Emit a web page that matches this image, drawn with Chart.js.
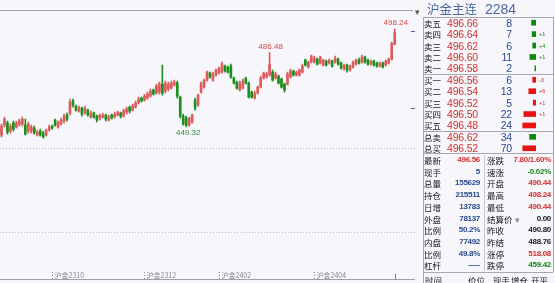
<!DOCTYPE html>
<html>
<head>
<meta charset="utf-8">
<script src="https://cdn.jsdelivr.net/npm/chart.js@4.4.1/dist/chart.umd.min.js"></script>
<style>
  html, body { margin: 0; padding: 0; background: #f6f6fb; }
  body { width: 555px; height: 283px; position: relative; overflow: hidden; font-family: "Liberation Sans", Arial, sans-serif; }
  #kline { position: absolute; left: 0; top: 0; }
  #panel { position: absolute; left: 0; top: 0; width: 555px; height: 283px; }
  #book { position: absolute; left: 500px; top: 17px; }
  .t { position: absolute; height: 12px; line-height: 12px; white-space: nowrap; }
  .cn { font-family: "Noto Sans CJK SC", sans-serif; font-size: 8.5px; color: #1a1a1a; }
  .px { font-size: 10.5px; letter-spacing: -0.2px; }
  .sv { font-size: 8px; font-weight: bold; letter-spacing: -0.3px; }
  .chg { font-size: 5.5px; }
  .red { color: #d03232; }
  .blue { color: #2a4a8e; }
  .green { color: #128a12; }
  .black { color: #222; }
  .title { font-family: "Noto Sans CJK SC", sans-serif; font-size: 12.5px; color: #4a6a9f; height: 16px; line-height: 16px; }
  .title2 { font-size: 14px; color: #4a6a9f; height: 16px; line-height: 16px; }
  .hl { position: absolute; height: 1px; background: #a8a8b2; }
  .vl { position: absolute; width: 1px; background: #a8a8b2; }
</style>
</head>
<body>
<canvas id="kline" width="415" height="283"></canvas>
<div id="panel"></div>
<canvas id="book" width="36" height="137"></canvas>
<script>
// K-line data (daily, oldest first)
const opens = [
  445.2, 450.2, 451.2, 447.2, 451.2, 449.2, 450.7, 450.7, 450.2, 447.2,
  447.2, 448.7, 445.2, 447.2, 446.2, 445.2, 447.7, 449.7, 452.7, 449.2,
  450.7, 452.2, 455.2, 456.2, 462.2, 459.7, 457.2, 458.7, 456.2, 457.7,
  454.2, 456.2, 454.7, 453.7, 454.2, 455.2, 452.7, 455.2, 454.2, 455.2,
  456.2, 454.7, 456.7, 459.2, 457.7, 459.2, 461.2, 463.7, 462.7, 463.7,
  464.7, 467.7, 466.2, 466.7, 470.7, 467.2, 468.2, 468.7, 470.2, 471.2,
  464.2, 454.7, 453.7, 450.2, 451.7, 462.7, 460.2, 466.7, 469.2, 472.7,
  476.2, 472.7, 475.2, 476.2, 476.7, 479.7, 479.2, 479.7, 473.7, 471.7,
  467.7, 468.7, 473.7, 471.2, 466.7, 463.7, 466.2, 469.2, 473.7, 474.2,
  475.2, 476.7, 473.7, 474.7, 473.2, 470.7, 470.7, 474.2, 477.2, 475.2,
  475.2, 476.7, 482.7, 479.2, 481.7, 481.7, 483.2, 481.2, 480.2, 482.2,
  481.2, 482.2, 481.7, 483.2, 481.2, 478.2, 480.2, 477.7, 479.2, 480.7,
  482.7, 481.7, 484.2, 482.7, 480.7, 482.2, 481.2, 479.7, 481.2, 480.2,
  481.2, 483.2, 490.44
];
const highs = [
  450.7, 454.2, 452.2, 450.7, 452.2, 452.2, 453.2, 454.2, 453.2, 451.7,
  450.2, 449.7, 447.7, 448.2, 447.2, 448.2, 450.2, 450.2, 453.2, 452.2,
  453.7, 455.7, 456.2, 463.2, 463.2, 460.2, 459.7, 459.2, 459.7, 458.2,
  457.2, 456.7, 455.2, 455.7, 456.2, 455.7, 455.2, 455.7, 456.7, 457.2,
  456.7, 458.2, 459.2, 459.7, 460.7, 462.2, 464.2, 464.2, 465.7, 466.7,
  468.2, 468.2, 470.7, 471.7, 480.2, 472.2, 471.7, 472.2, 472.7, 472.2,
  464.7, 455.7, 454.7, 454.2, 455.7, 463.7, 465.7, 471.7, 473.2, 477.2,
  476.7, 476.7, 478.2, 479.2, 481.7, 480.2, 479.7, 480.7, 474.2, 472.2,
  472.2, 473.2, 474.2, 471.7, 467.2, 467.2, 469.7, 474.7, 476.7, 476.7,
  486.48, 477.7, 476.7, 475.2, 473.7, 471.2, 476.7, 478.2, 477.7, 477.2,
  478.2, 480.7, 483.2, 482.2, 485.2, 484.7, 483.7, 484.7, 483.2, 482.7,
  483.2, 482.7, 484.7, 483.7, 481.7, 480.7, 480.7, 480.2, 482.2, 483.2,
  483.7, 485.2, 484.7, 483.2, 482.7, 482.7, 481.7, 481.7, 481.7, 482.7,
  483.7, 491.7, 498.24
];
const lows = [
  444.2, 449.2, 445.7, 446.2, 447.2, 448.7, 449.7, 449.7, 445.2, 446.2,
  446.2, 445.7, 444.7, 444.7, 443.7, 444.7, 447.2, 448.2, 449.7, 448.7,
  450.2, 451.2, 452.2, 455.2, 459.2, 457.2, 456.7, 454.7, 455.7, 454.7,
  453.7, 453.7, 451.7, 452.7, 453.7, 452.2, 452.2, 453.2, 453.7, 454.7,
  453.7, 454.2, 455.7, 456.2, 457.2, 458.7, 460.7, 461.7, 462.2, 463.2,
  464.2, 465.2, 465.7, 465.7, 465.2, 466.2, 467.2, 468.2, 469.7, 463.7,
  453.7, 450.2, 449.32, 449.7, 451.2, 457.7, 459.7, 466.2, 468.7, 472.2,
  473.7, 472.2, 474.7, 475.7, 476.2, 476.7, 476.2, 473.7, 470.7, 468.2,
  467.2, 468.2, 470.7, 463.7, 463.7, 463.2, 465.7, 468.7, 473.2, 473.7,
  474.7, 472.2, 473.2, 470.7, 468.7, 466.7, 470.2, 473.7, 474.7, 474.7,
  474.7, 476.2, 479.7, 478.7, 481.2, 481.2, 480.2, 480.7, 479.7, 479.7,
  480.7, 479.2, 481.2, 480.2, 478.2, 477.7, 476.7, 477.2, 478.7, 480.2,
  480.7, 481.2, 481.2, 480.2, 480.2, 479.7, 479.2, 479.2, 478.7, 479.7,
  480.7, 482.7, 490.44
];
const closes = [
  449.7, 453.2, 446.7, 449.7, 448.2, 451.2, 452.2, 453.2, 445.7, 450.7,
  449.2, 446.2, 446.7, 445.2, 444.2, 447.7, 449.2, 448.7, 450.2, 451.7,
  452.7, 454.7, 453.2, 461.7, 460.2, 457.7, 458.7, 455.7, 458.7, 455.2,
  456.2, 454.2, 452.7, 455.2, 455.2, 453.2, 454.2, 453.7, 455.7, 456.7,
  454.7, 457.2, 458.2, 457.2, 459.7, 461.2, 463.2, 462.2, 464.7, 465.7,
  467.2, 465.7, 469.7, 470.7, 466.2, 471.2, 470.7, 471.2, 471.7, 464.7,
  454.7, 450.7, 450.2, 453.7, 455.2, 458.7, 465.2, 471.2, 472.7, 476.7,
  474.2, 475.7, 477.7, 478.7, 480.7, 477.2, 476.7, 474.2, 471.2, 468.7,
  471.2, 472.2, 471.2, 464.2, 464.2, 466.2, 469.2, 473.7, 476.2, 475.7,
  480.7, 472.7, 475.7, 471.2, 469.2, 467.7, 475.7, 477.2, 475.2, 476.7,
  477.7, 479.7, 480.2, 481.7, 484.7, 483.7, 480.7, 484.2, 482.7, 480.2,
  482.7, 479.7, 483.7, 480.7, 478.7, 480.2, 477.7, 479.7, 481.7, 482.7,
  481.2, 484.2, 481.7, 480.7, 482.2, 480.2, 479.7, 481.2, 479.2, 482.2,
  483.2, 490.8, 496.56
];

// contract roll labels on the time axis (index of the bar where they start)
const tickIdx = [17, 48, 73, 105];
const tickText = ["沪金2310", "沪金2312", "沪金2402", "沪金2404"];
const gridPrices = [438.74, 396.74];
const sideMarks = [497.24, 458.74];
const markHigh = [132, 90];
const markLow = [62];

// order book
const askLabels = ["卖五", "卖四", "卖三", "卖二", "卖一"];
const askPrices = [496.66, 496.64, 496.62, 496.6, 496.58];
const askVols = [8, 7, 6, 11, 2];
const askChg = ["", "+1", "+4", "+1", ""];
const bidLabels = ["买一", "买二", "买三", "买四", "买五"];
const bidPrices = [496.56, 496.54, 496.52, 496.5, 496.48];
const bidVols = [6, 13, 5, 22, 24];
const bidChg = ["-3", "+6", "+1", "+1", ""];
const totLabels = ["总卖", "总买"];
const totPrices = [496.62, 496.52];
const totVols = [34, 70];

// quote stats: [label, value, color] left and right
const statLeft = [
  ["最新", "496.56", "red"], ["现手", "5", "blue"], ["总量", "155629", "blue"],
  ["持仓", "215511", "blue"], ["日增", "13783", "blue"], ["外盘", "78137", "blue"],
  ["比例", "50.2%", "blue"], ["内盘", "77492", "blue"], ["比例", "49.8%", "blue"],
  ["杠杆", "-----", "blue"]
];
const statRight = [
  ["涨跌", "7.80/1.60%", "red"], ["速涨", "-0.02%", "green"], ["开盘", "490.44", "red"],
  ["最高", "498.24", "red"], ["最低", "490.44", "red"], ["结算价", "0.00", "black"],
  ["昨收", "490.80", "black"], ["昨结", "488.76", "black"], ["涨停", "518.08", "red"],
  ["跌停", "459.42", "green"]
];
const tradeHeader = ["时间", "价位", "现手", "增仓", "开平"];

const UP = "#dc5c5c";
const DOWN = "#1d8f1d";

const candleColors = closes.map((c, i) => (c >= opens[i] ? UP : DOWN));

const overlay = {
  id: "overlay",
  afterDraw(chart) {
    const { ctx, chartArea, scales } = chart;
    const x = scales.x, y = scales.y;
    ctx.save();
    // top frame line
    ctx.strokeStyle = "#9ea3b4";
    ctx.lineWidth = 1;
    ctx.beginPath();
    ctx.moveTo(0, chartArea.top + 0.5);
    ctx.lineTo(413, chartArea.top + 0.5);
    ctx.stroke();
    // dotted price grid
    ctx.strokeStyle = "#bcbcc8";
    ctx.setLineDash([1, 2]);
    gridPrices.forEach((p) => {
      const py = Math.round(y.getPixelForValue(p)) + 0.5;
      ctx.beginPath();
      ctx.moveTo(0, py);
      ctx.lineTo(415, py);
      ctx.stroke();
    });
    // contract labels
    ctx.font = "7px 'Noto Sans CJK SC'";
    ctx.fillStyle = "#8a8a8a";
    ctx.textBaseline = "alphabetic";
    ctx.textAlign = "left";
    tickIdx.forEach((idx, k) => {
      const px = Math.round(x.getPixelForValue(idx)) + 0.5;
      ctx.strokeStyle = "#8a8a8a";
      ctx.beginPath();
      ctx.moveTo(px, 272);
      ctx.lineTo(px, 279);
      ctx.stroke();
      ctx.fillText(tickText[k], px + 2, 278);
    });
    ctx.setLineDash([]);
    // bottom axis line
    ctx.strokeStyle = "#a0a0aa";
    ctx.beginPath();
    ctx.moveTo(0, chartArea.bottom + 0.5);
    ctx.lineTo(415, chartArea.bottom + 0.5);
    ctx.stroke();
    // current bar marker
    const lx = Math.round(x.getPixelForValue(closes.length - 1)) + 0.5;
    ctx.strokeStyle = "#777";
    ctx.beginPath();
    ctx.moveTo(lx, 274);
    ctx.lineTo(lx, 279);
    ctx.stroke();
    // right edge marks
    ctx.strokeStyle = "#5a6690";
    sideMarks.forEach((p) => {
      const py = Math.round(y.getPixelForValue(p)) + 0.5;
      ctx.beginPath();
      ctx.moveTo(411, py);
      ctx.lineTo(415, py);
      ctx.stroke();
    });
    // high / low annotations
    ctx.font = "8px 'Liberation Sans'";
    ctx.textAlign = "center";
    ctx.fillStyle = "#d24a4a";
    ctx.textBaseline = "bottom";
    markHigh.forEach((i) => {
      ctx.fillText(highs[i].toFixed(2), x.getPixelForValue(i) + 1, y.getPixelForValue(highs[i]) - 2);
    });
    ctx.fillStyle = "#2a8a3a";
    ctx.textBaseline = "top";
    markLow.forEach((i) => {
      ctx.fillText(lows[i].toFixed(2), x.getPixelForValue(i) + 2, y.getPixelForValue(lows[i]) + 2);
    });
    ctx.restore();
  },
};

new Chart(document.getElementById("kline"), {
  type: "bar",
  data: {
    datasets: [
      {
        data: lows.map((l, i) => ({ x: i, y: [l, highs[i]] })),
        backgroundColor: candleColors,
        barThickness: 1,
        grouped: false,
        borderWidth: 0,
      },
      {
        data: opens.map((o, i) => ({ x: i, y: [o, closes[i]] })),
        backgroundColor: candleColors,
        barThickness: 2,
        grouped: false,
        borderWidth: 0,
        minBarLength: 1,
      },
    ],
  },
  options: {
    responsive: false,
    animation: false,
    devicePixelRatio: 1,
    events: [],
    layout: { padding: { top: 10, bottom: 4, left: 0, right: 3 } },
    plugins: { legend: { display: false }, tooltip: { enabled: false } },
    scales: {
      x: { type: "linear", display: false, offset: false, min: -0.5, max: 137.8 },
      y: { display: false, min: 373.24, max: 507.74 },
    },
  },
  plugins: [overlay],
});

/// Side panel ///
const panel = document.getElementById("panel");
function put(text, x, y, cls, right) {
  const d = document.createElement("div");
  d.className = "t " + cls;
  d.textContent = text;
  d.style.top = y - 6 + "px";
  if (right) d.style.right = 555 - x + "px";
  else d.style.left = x + "px";
  panel.appendChild(d);
  return d;
}
function hline(x1, x2, y) {
  const d = document.createElement("div");
  d.className = "hl";
  d.style.left = x1 + "px";
  d.style.width = x2 - x1 + "px";
  d.style.top = y + "px";
  panel.appendChild(d);
}
function vline(x, y1, y2, color) {
  const d = document.createElement("div");
  d.className = "vl";
  d.style.left = x + "px";
  d.style.top = y1 + "px";
  d.style.height = y2 - y1 + "px";
  if (color) d.style.background = color;
  panel.appendChild(d);
}

const t1 = put("沪金主连", 427, 9, "title");
t1.style.top = "1px";
const t2 = put("2284", 485, 9, "title2");
t2.style.top = "1px";
const tri = put("▾", 415, 12, "black");
tri.style.fontSize = "9px";
tri.style.color = "#555";

const rowY = (k) => 22.7 + 11.42 * k;
askLabels.forEach((lab, k) => {
  const y = rowY(k);
  put(lab, 424, y, "cn");
  put(askPrices[k].toFixed(2), 447, y, "px red");
  put(String(askVols[k]), 512, y, "px blue", true);
  if (askChg[k]) put(askChg[k], 539, y, "chg green");
});
bidLabels.forEach((lab, k) => {
  const y = rowY(k + 5);
  put(lab, 424, y, "cn");
  put(bidPrices[k].toFixed(2), 447, y, "px red");
  put(String(bidVols[k]), 512, y, "px blue", true);
  if (bidChg[k]) put(bidChg[k], 539, y, "chg red");
});
totLabels.forEach((lab, k) => {
  const y = rowY(k + 10);
  put(lab, 424, y, "cn");
  put(totPrices[k].toFixed(2), 447, y, "px red");
  put(String(totVols[k]), 512, y, "px blue", true);
});

const statY = (k) => 160 + 11.7 * k;
statLeft.forEach((row, k) => {
  const y = statY(k);
  put(row[0], 424, y, "cn");
  put(row[1], 480, y, "sv " + row[2], true);
  const r = statRight[k];
  put(r[0], 487, y, "cn");
  if (r[0] === "结算价") {
    const a = put("▾", 515, y, "cn");
    a.style.color = "#888";
  }
  put(r[1], 551, y, "sv " + r[2], true);
});
[425, 468, 493, 511, 531].forEach((x, k) => put(tradeHeader[k], x, 279.5, "cn"));

hline(423, 553, 17);
hline(423, 553, 74);
hline(423, 553, 131);
hline(423, 553, 153);
hline(423, 553, 272);
vline(423, 17, 283);
vline(553, 17, 272);
vline(484, 155, 271, "#c8c8d0");

/// Order book volume bars ///
const bookLabels = [...askLabels, ...bidLabels, ...totLabels];
const levelVols = [...askVols, ...bidVols, null, null];
const totalVols = [...Array(10).fill(null), ...totVols];
const levelColors = [...askVols.map(() => "#0c8a0c"), ...bidVols.map(() => "#e81414"), null, null];
const totalColors = [...Array(10).fill(null), "#0c8a0c", "#e81414"];

new Chart(document.getElementById("book"), {
  type: "bar",
  data: {
    labels: bookLabels,
    datasets: [
      { data: levelVols, backgroundColor: levelColors, xAxisID: "x", barThickness: 5, grouped: false },
      { data: totalVols, backgroundColor: totalColors, xAxisID: "x2", barThickness: 5, grouped: false },
    ],
  },
  options: {
    indexAxis: "y",
    responsive: false,
    animation: false,
    devicePixelRatio: 1,
    events: [],
    layout: { padding: 0 },
    plugins: { legend: { display: false }, tooltip: { enabled: false } },
    scales: {
      y: { display: false },
      x: { display: false, reverse: true, min: 0, max: 65 },
      x2: { axis: "x", display: false, reverse: true, min: 0, max: 190 },
    },
  },
});
</script>
</body>
</html>
